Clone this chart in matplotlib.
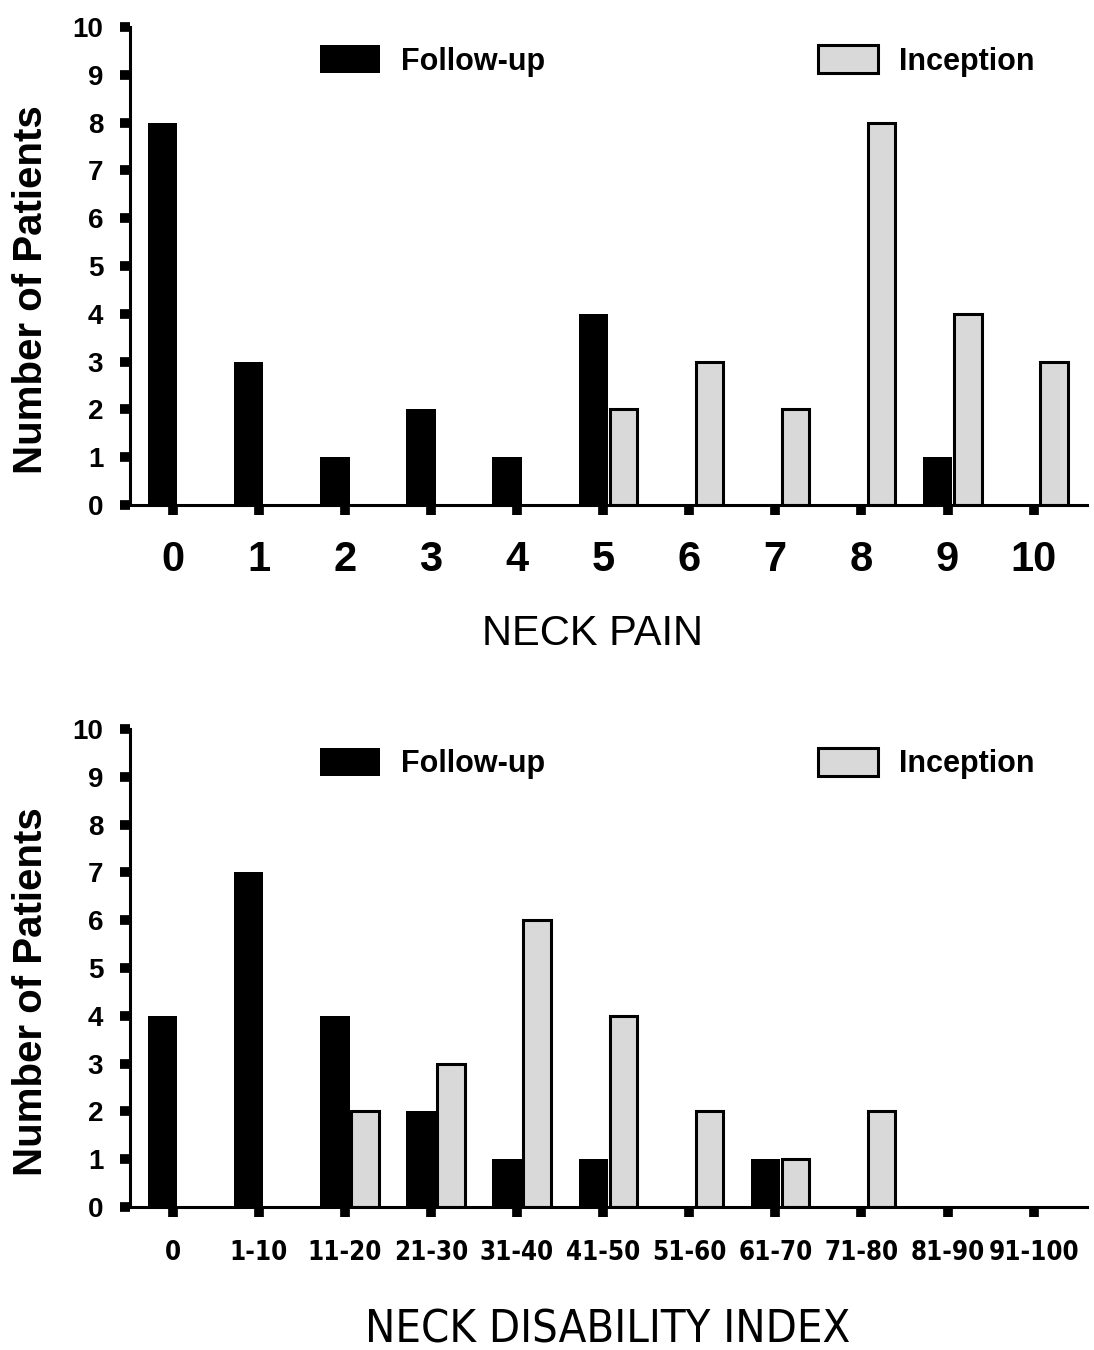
import numpy as np
import matplotlib
matplotlib.use("Agg")
import matplotlib.pyplot as plt
from matplotlib import font_manager as fm

# data
pain_labels = ["0", "1", "2", "3", "4", "5", "6", "7", "8", "9", "10"]
pain_followup = [8, 3, 1, 2, 1, 4, 0, 0, 0, 1, 0]
pain_inception = [0, 0, 0, 0, 0, 2, 3, 2, 8, 4, 3]

ndi_labels = ["0", "1-10", "11-20", "21-30", "31-40", "41-50",
              "51-60", "61-70", "71-80", "81-90", "91-100"]
ndi_followup = [4, 7, 4, 2, 1, 1, 0, 1, 0, 0, 0]
ndi_inception = [0, 0, 2, 3, 6, 4, 2, 1, 2, 0, 0]

plt.rcParams['font.family'] = ['Liberation Sans', 'DejaVu Sans']

# look for a condensed face for the lower panel, else plain Liberation Sans
narrow = [f for f in fm.fontManager.ttflist
          if "narrow" in f.name.lower() or "condensed" in f.name.lower()
          or str(f.stretch) in ("condensed", "semi-condensed")]
def pick(bold):
    for f in narrow:
        isbold = f.weight in ("bold", 700) or str(f.weight) == "700"
        if isbold == bold and "oblique" not in f.style and "italic" not in f.style:
            return f.fname
    return None
nb, nr = pick(True), pick(False)
if nb:
    fp_tick = fm.FontProperties(fname=nb, size=18.5)
else:
    fp_tick = fm.FontProperties(family="Liberation Sans", weight="bold", size=19)
if nr:
    fp_lab = fm.FontProperties(fname=nr, size=32.5)
else:
    fp_lab = fm.FontProperties(family="Liberation Sans", size=30)

fig = plt.figure(figsize=(10.94, 13.5), dpi=100)
ax1 = fig.add_axes([0.1184, 0.6259, 0.8752, 0.3541])
ax2 = fig.add_axes([0.1184, 0.1059, 0.8752, 0.3541])

gray = "#d9d9d9"
w = 0.34


def panel(ax, labels, fu, inc, legy):
    x = np.arange(len(labels))
    b1 = ax.bar(x - 0.115, fu, width=w, color="black", edgecolor="black", linewidth=0)
    inc = np.array(inc, dtype=float)
    m = inc > 0
    b2 = ax.bar(x[m] + 0.235, inc[m], width=w - 0.02, color=gray,
                edgecolor="black", linewidth=2.2)
    ax.set_xlim(-0.5, 10.62)
    ax.set_ylim(0, 10)
    ax.set_yticks(range(11))
    ax.set_xticks(x)
    for t in ax.get_yticklabels():
        t.set_fontsize(20)
        t.set_fontweight("bold")
    for s in ["top", "right"]:
        ax.spines[s].set_visible(False)
    for s in ["left", "bottom"]:
        ax.spines[s].set_linewidth(2.2)
    ax.tick_params(axis="both", direction="out", length=7, width=7, color="black")
    ax.tick_params(axis="y", pad=12)
    ax.set_ylabel("Number of Patients", fontsize=29, fontweight="bold")
    ax.yaxis.set_label_coords(-0.083, 0.45)

    kw = dict(frameon=False, handlelength=1.95, handleheight=1.0,
              handletextpad=0.7, borderpad=0, borderaxespad=0,
              prop={"size": 22, "weight": "bold"})
    l1 = ax.legend([b1], ["Follow-up"], loc="center left",
                   bbox_to_anchor=(0.199, legy), **kw)
    ax.add_artist(l1)
    ax.legend([b2], ["Inception"], loc="center left",
              bbox_to_anchor=(0.719, legy), **kw)


panel(ax1, pain_labels, pain_followup, pain_inception, 0.929)
ax1.set_xticklabels(pain_labels, fontsize=30, fontweight="bold")
ax1.tick_params(axis="x", pad=18)
ax1.set_xlabel("NECK PAIN", fontsize=30)
ax1.xaxis.set_label_coords(0.484, -0.228)

panel(ax2, ndi_labels, ndi_followup, ndi_inception, 0.927)
ax2.set_xticklabels(ndi_labels, fontproperties=fp_tick)
ax2.tick_params(axis="x", pad=17)
ax2.set_xlabel("NECK DISABILITY INDEX", fontproperties=fp_lab)
ax2.xaxis.set_label_coords(0.499, -0.212)

fig.savefig("out.png", dpi=100)
